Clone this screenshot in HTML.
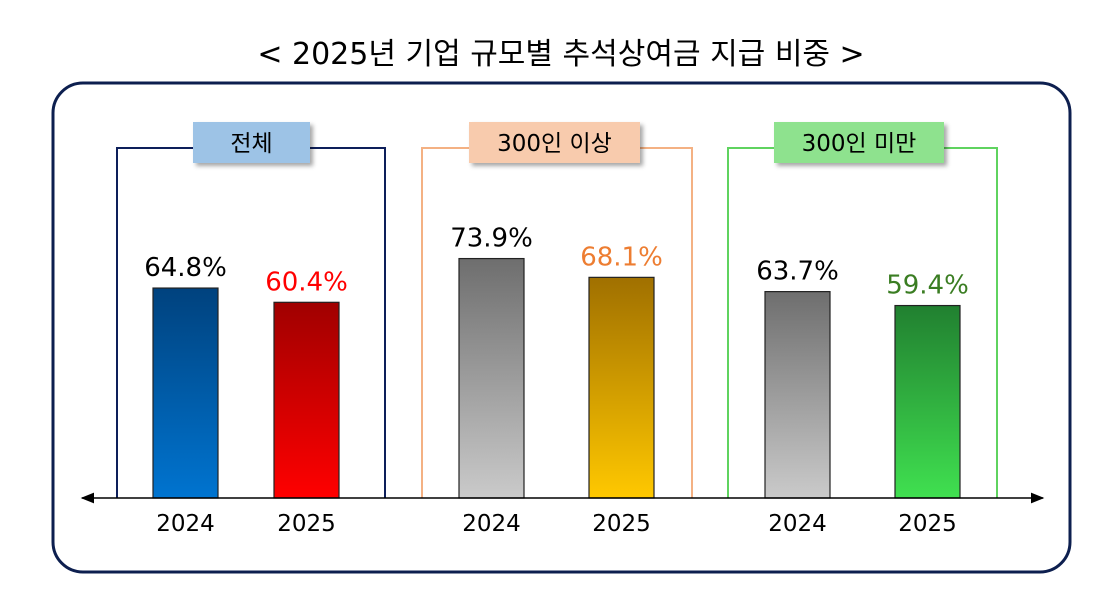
<!DOCTYPE html>
<html><head><meta charset="utf-8"><style>
body{margin:0;width:1111px;height:601px;background:#fff;overflow:hidden;font-family:"DejaVu Sans","Noto Sans CJK KR",sans-serif}
</style></head><body>
<svg width="1111" height="601" viewBox="0 0 1111 601" xmlns="http://www.w3.org/2000/svg">
<defs>
<linearGradient id="g0" x1="0" y1="0" x2="0" y2="1"><stop offset="0" stop-color="#00427e"/><stop offset="1" stop-color="#0074d0"/></linearGradient>
<linearGradient id="g1" x1="0" y1="0" x2="0" y2="1"><stop offset="0" stop-color="#a00000"/><stop offset="1" stop-color="#ff0000"/></linearGradient>
<linearGradient id="g2" x1="0" y1="0" x2="0" y2="1"><stop offset="0" stop-color="#6e6e6e"/><stop offset="1" stop-color="#cacaca"/></linearGradient>
<linearGradient id="g3" x1="0" y1="0" x2="0" y2="1"><stop offset="0" stop-color="#a07000"/><stop offset="1" stop-color="#ffc800"/></linearGradient>
<linearGradient id="g4" x1="0" y1="0" x2="0" y2="1"><stop offset="0" stop-color="#218030"/><stop offset="1" stop-color="#40e050"/></linearGradient>
<filter id="sh" x="-10%" y="-10%" width="130%" height="140%"><feDropShadow dx="3" dy="3" stdDeviation="2" flood-color="#000" flood-opacity="0.35"/></filter>
<marker id="ar" viewBox="0 0 10 10" refX="9" refY="5" markerWidth="9" markerHeight="9" orient="auto-start-reverse"><path d="M0,1 L10,5 L0,9 Z" fill="#000"/></marker>
</defs>
<text x="561" y="64" text-anchor="middle" font-size="30" fill="#000">&lt; 2025년 기업 규모별 추석상여금 지급 비중 &gt;</text>
<rect x="53" y="83" width="1017" height="489" rx="30" fill="none" stroke="#0d1f4f" stroke-width="3"/>
<g id="groups"></g>
<g id="bars"></g>
<line x1="82" y1="498" x2="1043" y2="498" stroke="#000" stroke-width="1.5" marker-start="url(#ar)" marker-end="url(#ar)"/>
</svg>
<script>
const groupNames=["전체","300인 이상","300인 미만"];
const years=["2024","2025"];
const values2024=[64.8,73.9,63.7];
const values2025=[60.4,68.1,59.4];
const NS="http://www.w3.org/2000/svg";
const base=498, k=3.24;
const y=v=>base-v*k;
const grpX=[117,422,728], grpW=[268,270,269];
const grpStroke=["#0d1f5a","#f4b183","#5fd35f"];
const lblFill=["#9dc3e6","#f8cbad","#8ee28e"];
const lblBox=[[193,117],[469,171],[774,170]];
const barX=[[153,274],[459,589],[765,895]];
const fills=[["url(#g0)","url(#g1)"],["url(#g2)","url(#g3)"],["url(#g2)","url(#g4)"]];
const valCol=[["#000","#ff0000"],["#000","#ed7d31"],["#000","#3a7d22"]];
function mk(t,a,p){const e=document.createElementNS(NS,t);for(const k in a)e.setAttribute(k,a[k]);p.appendChild(e);return e;}
const G=document.getElementById("groups"),B=document.getElementById("bars");
groupNames.forEach((n,i)=>{
 const br=mk("path",{d:`M${grpX[i]},498 V148 H${grpX[i]+grpW[i]} V498`,fill:"none",stroke:grpStroke[i],"stroke-width":2},G);
 
 
 const r=mk("rect",{x:lblBox[i][0],y:122,width:lblBox[i][1],height:41,fill:lblFill[i],filter:"url(#sh)"},G);
 
 
 const t=mk("text",{x:lblBox[i][0]+lblBox[i][1]/2,y:151,"text-anchor":"middle","font-size":23,fill:"#000"},G);
 t.textContent=n;
 
 
 [values2024[i],values2025[i]].forEach((v,j)=>{
  const bx=barX[i][j];
  const b=mk("rect",{x:bx,y:y(v),width:65,height:base-y(v),fill:fills[i][j],stroke:"#222","stroke-width":1.2},B);
  
  
  const vt=mk("text",{x:bx+32.5,y:y(v)-12,"text-anchor":"middle","font-size":26,fill:valCol[i][j]},B);
  vt.textContent=v.toFixed(1)+"%";
  
  
  const yt=mk("text",{x:bx+32.5,y:531,"text-anchor":"middle","font-size":23,fill:"#000"},B);
  yt.textContent=years[j];
  
  
 });
});
</script>
</body></html>
